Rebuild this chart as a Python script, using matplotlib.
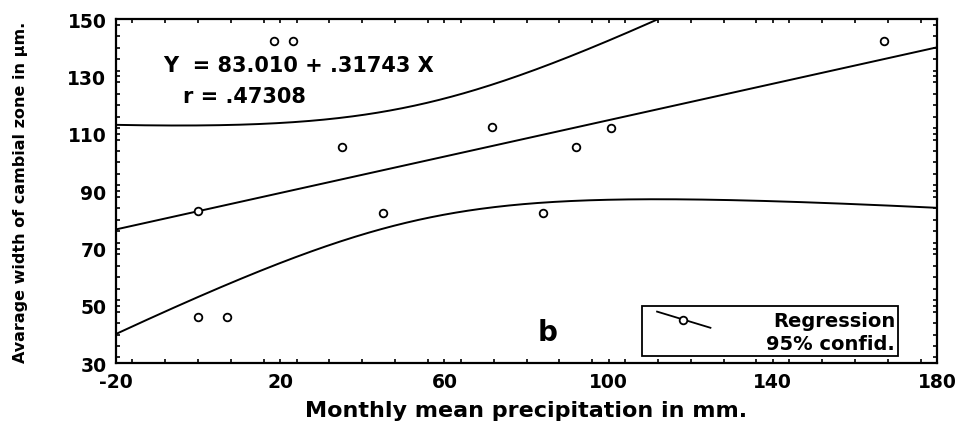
import numpy as np
import matplotlib
matplotlib.use("Agg")
import matplotlib.pyplot as plt
from matplotlib.ticker import MultipleLocator
from matplotlib.lines import Line2D
from matplotlib.patches import Rectangle

# data
precip = [0, 0, 7, 18.5, 23, 35, 45, 71.5, 84, 92, 100.5, 167]
width_um = [83, 46, 46, 142.5, 142.5, 105.5, 82.5, 112.5, 82.5, 105.5, 112, 142.5]
intercept = 83.010
slope = 0.31743
r_value = 0.47308
t_crit = 2.228  # 95%, df = 10

x_ticks = [-20, 20, 60, 100, 140, 180]
y_ticks = [30, 50, 70, 90, 110, 130, 150]

plt.rcParams['font.family'] = ['DejaVu Sans']
plt.rcParams['font.weight'] = 'bold'
plt.rcParams['axes.unicode_minus'] = False

fig = plt.figure(figsize=(9.67, 4.27), dpi=100)
ax = fig.add_axes([0.120, 0.147, 0.849, 0.806])

x = np.asarray(precip, float)
y = np.asarray(width_um, float)
n = len(x)
xs = np.linspace(-20, 180, 400)
fit = intercept + slope * xs
resid = y - (intercept + slope * x)
s = np.sqrt(np.sum(resid ** 2) / (n - 2))
sxx = np.sum((x - x.mean()) ** 2)
hw = t_crit * s * np.sqrt(1.0 / n + (xs - x.mean()) ** 2 / sxx)

lw = 1.4
ax.plot(xs, fit, color='black', lw=lw)
ax.plot(xs, fit + hw, color='black', lw=lw)
ax.plot(xs, fit - hw, color='black', lw=lw)
ax.plot(x, y, linestyle='none', marker='o', markersize=5.5, markerfacecolor='white',
        markeredgecolor='black', markeredgewidth=1.3, zorder=5)

ax.set_xlim(-20, 180)
ax.set_ylim(30, 150)
ax.set_xticks(x_ticks)
ax.set_yticks(y_ticks)
ax.xaxis.set_minor_locator(MultipleLocator(8))
ax.yaxis.set_minor_locator(MultipleLocator(4))
ax.tick_params(which='both', direction='in', top=True, right=True, length=3, width=1.2)
ax.tick_params(axis='y', which='major', labelsize=13.5, pad=7)
ax.tick_params(axis='x', which='major', labelsize=13.5, pad=6)
for lab in ax.get_xticklabels() + ax.get_yticklabels():
    lab.set_fontweight('heavy')
for sp in ax.spines.values():
    sp.set_linewidth(1.6)

ax.set_xlabel('Monthly mean precipitation in mm.', fontsize=16, fontweight='heavy', labelpad=7)
ax.set_ylabel('Avarage width of cambial zone in µm.', fontsize=11.5, fontweight='heavy', labelpad=28)

ax.text(0.057, 0.866, 'Y  = 83.010 + .31743 X', transform=ax.transAxes, fontsize=15,
        fontweight='heavy', va='center', ha='left')
ax.text(0.082, 0.776, 'r = .47308', transform=ax.transAxes, fontsize=15,
        fontweight='heavy', va='center', ha='left')
ax.text(0.526, 0.09, 'b', transform=ax.transAxes, fontsize=20, fontweight='heavy',
        va='center', ha='center')

# legend box
ax.add_patch(Rectangle((0.641, 0.020), 0.311, 0.146, transform=ax.transAxes,
                       facecolor='white', edgecolor='black', lw=1.3, zorder=6))
ax.add_line(Line2D([0.659, 0.724], [0.15, 0.103], transform=ax.transAxes, color='black',
                   lw=1.3, zorder=7))
ax.add_line(Line2D([0.691], [0.126], transform=ax.transAxes, marker='o', markersize=5.5,
                   markerfacecolor='white', markeredgecolor='black', markeredgewidth=1.3,
                   zorder=8))
ax.text(0.949, 0.123, 'Regression', transform=ax.transAxes, fontsize=14,
        fontweight='heavy', ha='right', va='center', zorder=8)
ax.text(0.949, 0.058, '95% confid.', transform=ax.transAxes, fontsize=14,
        fontweight='heavy', ha='right', va='center', zorder=8)

fig.savefig('out.png', dpi=100)
